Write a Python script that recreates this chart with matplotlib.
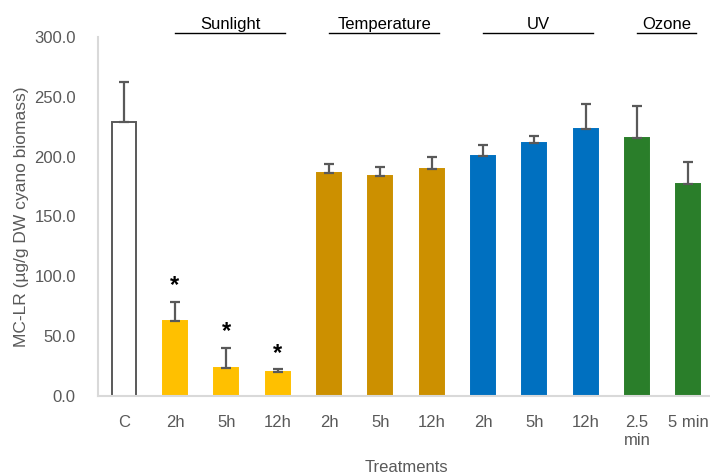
import matplotlib
matplotlib.use("Agg")
import matplotlib.pyplot as plt
import numpy as np

plt.rcParams["font.family"] = ["Liberation Sans", "DejaVu Sans"]

# data
labels = ["C", "2h", "5h", "12h", "2h", "5h", "12h", "2h", "5h", "12h", "2.5\nmin", "5 min"]
values = [228.7, 62.9, 23.1, 20.0, 186.0, 184.1, 189.3, 200.2, 211.1, 223.1, 215.8, 176.9]
errors = [34.0, 16.0, 17.3, 2.3, 7.6, 6.9, 10.6, 9.5, 6.1, 21.1, 26.5, 18.3]
groups = ["Control", "Sunlight", "Sunlight", "Sunlight", "Temperature", "Temperature",
          "Temperature", "UV", "UV", "UV", "Ozone", "Ozone"]
significant = [False, True, True, True, False, False, False, False, False, False, False, False]

GROUP_COLORS = {"Control": "white", "Sunlight": "#FFC000", "Temperature": "#CC9000",
                "UV": "#0070C0", "Ozone": "#2A7E2A"}
GREY = "#595959"
AXIS = "#D9D9D9"

fig = plt.figure(figsize=(7.1, 4.75), dpi=100, facecolor="white")
ax = fig.add_axes([98 / 710, 1 - 396 / 475, 616 / 710, 359 / 475])

x = np.arange(len(values))
colors = [GROUP_COLORS[g] for g in groups]
edges = [GREY if g == "Control" else GROUP_COLORS[g] for g in groups]
ax.bar(x, values, width=0.47, color=colors, edgecolor=edges, linewidth=1.4, zorder=2)
ax.errorbar(x, values, yerr=[np.zeros(len(errors)), errors], fmt="none",
            ecolor=GREY, elinewidth=1.6, capsize=3.5, capthick=1.6, zorder=3)

# asterisks for significant treatments
for i, sig in enumerate(significant):
    if sig:
        ax.annotate("*", (x[i], values[i] + errors[i]), xytext=(0, 3),
                    textcoords="offset points", ha="center", va="bottom",
                    fontsize=17, fontweight="bold", color="black")

ax.set_xlim(-0.5, 11.5)
ax.set_ylim(0, 300)
ax.set_yticks(np.arange(0, 301, 50))
ax.set_yticklabels([f"{v:.1f}" for v in np.arange(0, 301, 50)])
ax.set_xticks(x)
ax.set_xticklabels(labels, linespacing=1.25)
ax.tick_params(length=0, colors=GREY, labelsize=12)
ax.tick_params(axis="y", pad=16)
ax.tick_params(axis="x", pad=14)
for s in ["top", "right"]:
    ax.spines[s].set_visible(False)
for s in ["left", "bottom"]:
    ax.spines[s].set_color(AXIS)
    ax.spines[s].set_linewidth(1.5)

ax.set_ylabel("MC-LR (µg/g DW cyano biomass)", color=GREY, fontsize=12.5, labelpad=4)
ax.set_xlabel("Treatments", color=GREY, fontsize=12, va="center")
ax.xaxis.set_label_coords(0.5, -0.198)

# underlined group headers above the bars
for name in ["Sunlight", "Temperature", "UV", "Ozone"]:
    idx = [i for i, g in enumerate(groups) if g == name]
    x0, x1 = idx[0], idx[-1] + 0.15
    ax.plot([x0, x1], [1.01, 1.01], transform=ax.get_xaxis_transform(),
            color="black", linewidth=1.0, clip_on=False)
    ax.text((x0 + x1) / 2, 1.015, name, transform=ax.get_xaxis_transform(),
            ha="center", va="bottom", fontsize=12, color="black")

fig.savefig("out.png", dpi=100, facecolor="white")
